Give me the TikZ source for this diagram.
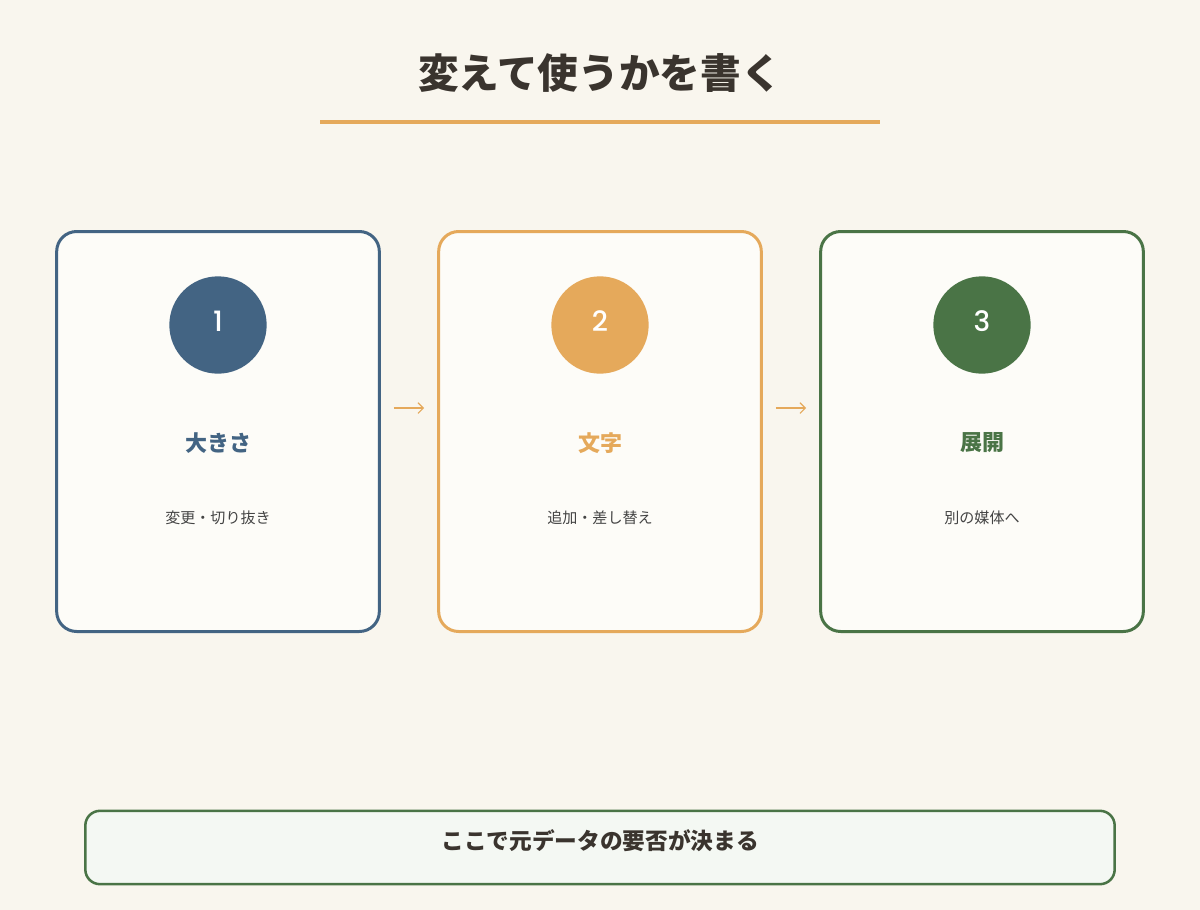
\documentclass[tikz,border=0pt]{standalone}
\usepackage{fontspec}
\setmainfont{Noto Sans CJK JP}
\newfontfamily\numfont{Poppins}[UprightFont=* Medium]
\usetikzlibrary{arrows.meta}

\definecolor{bgcol}{HTML}{F9F6EE}
\definecolor{cardfill}{HTML}{FDFCF8}
\definecolor{notefill}{HTML}{F4F8F3}
\definecolor{inkcol}{HTML}{3A342E}
\definecolor{subcol}{HTML}{444444}
\definecolor{bluecol}{HTML}{436483}
\definecolor{orangecol}{HTML}{E5A95B}
\definecolor{greencol}{HTML}{4A7446}

\begin{document}
\begin{tikzpicture}[x=0.75pt,y=-0.75pt]
		\tikzstyle{card}=[rectangle,rounded corners=15pt,line width=2.25pt,
                  fill=cardfill,minimum width=242pt,minimum height=300pt,
                  inner sep=0pt]
		\tikzstyle{badge}=[circle,minimum size=73pt,inner sep=0pt]
		\tikzstyle{digit}=[text=white,font=\numfont\fontsize{21}{24}\selectfont]
		\tikzstyle{flow}=[orangecol,line width=0.9pt,-{Straight Barb[length=4pt,width=8pt]}]

        \fill[bgcol] (0,0) rectangle (1200,910);
        \useasboundingbox (0,0) rectangle (1200,910);

        % title
        \node[text=inkcol,font=\fontsize{30.5}{36}\selectfont\bfseries] (title) at (600,73) {変えて使うかを書く};
        \coordinate (ruleL) at (320,122);
        \coordinate (ruleR) at (880,122);
        \draw[orangecol,line width=3pt] (ruleL) -- (ruleR);

        % cards
     	\foreach \name/\x/\col/\num/\head/\sub in {one/218/bluecol/1/大きさ/変更・切り抜き,
     	      two/600/orangecol/2/文字/追加・差し替え, three/982/greencol/3/展開/別の媒体へ}
        {
       		\node[card,draw=\col] (\name) at (\x,431.5) {};
       		\node[badge,fill=\col] (\name num) at (\x,325) {};
       		\node[digit] (\name digit) at (\x,321) {\num};
       		\node[text=\col,font=\fontsize{16.5}{20}\selectfont\bfseries] (\name head) at (\x,443) {\head};
       		\node[text=subcol,font=\fontsize{11.3}{14}\selectfont] (\name sub) at (\x,518) {\sub};
        }

        % arrows
        \draw[flow,shorten <=9.75pt,shorten >=9.75pt] ([yshift=17.6pt]one.east) -- ([yshift=17.6pt]two.west);
        \draw[flow,shorten <=9.75pt,shorten >=9.75pt] ([yshift=17.6pt]two.east) -- ([yshift=17.6pt]three.west);

        % note
        \node[rectangle,rounded corners=11pt,draw=greencol,line width=1.9pt,fill=notefill,
              minimum width=772pt,minimum height=55pt] (note) at (600,847.5) {};
        \node[text=inkcol,font=\fontsize{17}{20}\selectfont\bfseries] (notetext) at (600,841) {ここで元データの要否が決まる};

\end{tikzpicture}
\end{document}
